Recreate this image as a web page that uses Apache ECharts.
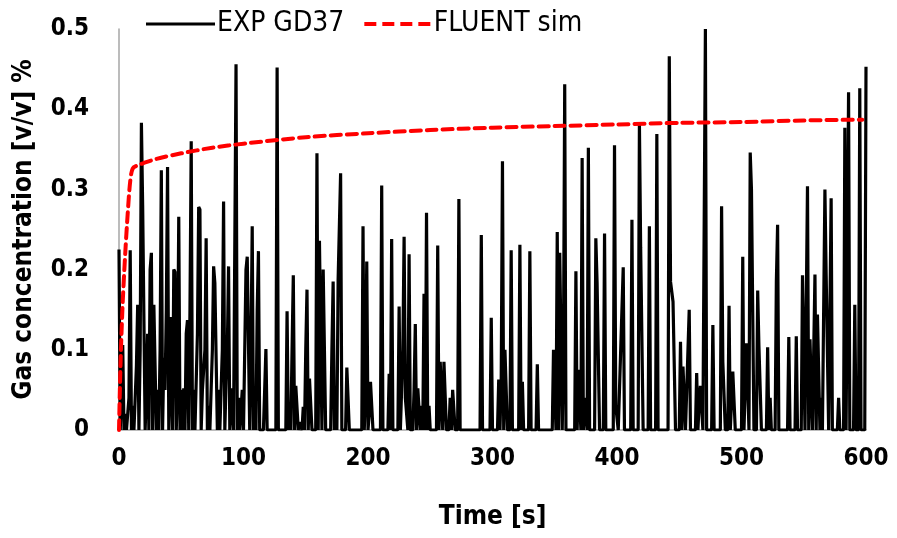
<!DOCTYPE html>
<html><head><meta charset="utf-8">
<script src="https://cdn.jsdelivr.net/npm/echarts@6/dist/echarts.min.js"></script>
<style>html,body{margin:0;padding:0;background:#fff}#c{width:897px;height:538px}</style>
</head><body><div id="c"></div>
<script>
const expTime = [0,1,2,3,4,5,6,8,9,10,11,12,14,15,16,17,18,19,20,21,22,23,24,25,26,27,28,29,30,31,32,33,34,35,36,37,38,39,40,41,42,43,44,45,46,47,48,49,50,51,52,53,54,55,56,57,58,59,60,61,63,64,65,66,67,69,70,71,72,73,75,76,77,78,79,80,81,83,84,85,86,87,88,89,90,91,92,94,95,96,97,99,100,102,103,104,105,106,107,108,109,110,111,112,113,116,117,118,119,126,127,128,130,134,135,136,137,138,139,140,141,142,143,144,145,147,148,149,150,151,152,153,154,155,158,159,160,161,162,163,164,165,166,170,171,172,173,174,175,176,177,178,179,182,183,184,185,195,196,197,198,199,200,201,202,203,204,210,211,212,216,217,218,219,220,224,225,226,227,228,229,230,231,232,233,234,236,237,238,239,240,241,242,243,244,245,246,247,248,249,250,255,256,257,258,259,260,261,262,263,265,266,267,268,269,270,272,273,274,290,291,292,298,299,300,304,305,306,307,308,309,310,311,312,314,315,316,321,322,323,324,325,329,330,331,335,336,337,348,349,350,351,352,353,354,355,356,357,358,359,366,367,368,369,370,371,372,373,374,375,376,377,378,382,383,384,385,386,389,390,391,397,398,399,400,401,405,406,411,412,413,417,418,419,420,421,425,426,427,431,432,433,441,442,443,444,445,446,447,450,451,452,453,454,455,458,459,463,464,465,466,467,468,469,471,472,476,477,478,483,484,485,486,487,489,490,491,493,494,495,500,501,502,504,505,506,507,508,509,510,512,513,514,515,516,520,521,522,523,524,527,528,529,530,537,538,539,543,544,545,548,549,550,551,552,553,554,555,556,557,558,559,560,561,562,563,564,565,566,567,568,569,570,571,572,573,577,578,579,582,583,584,585,586,587,590,591,592,594,595,596,599,600];
const expValue = [0.225,0,0.05,0.106,0,0.02,0,0.04,0.224,0,0.03,0,0.08,0.156,0,0.1,0.383,0.28,0.28,0,0.05,0.12,0,0.2,0.221,0,0.156,0.156,0,0.05,0,0.1,0.324,0,0.09,0.05,0.15,0.328,0,0.06,0.141,0,0.2,0.197,0,0.06,0.266,0,0.05,0,0.052,0,0.12,0.137,0,0.15,0.36,0,0.05,0,0.12,0.278,0.275,0,0.05,0.1,0.239,0,0.03,0,0.1,0.204,0.183,0.183,0,0.05,0,0.1,0.285,0,0.06,0.1,0.204,0,0.052,0.052,0,0.456,0,0.04,0,0.05,0,0.2,0.216,0.216,0,0.1,0.254,0,0.05,0,0.15,0.223,0,0,0.05,0.101,0,0,0.452,0,0,0,0.148,0,0.03,0,0.1,0.193,0,0.055,0.055,0,0.01,0,0.029,0,0.1,0.175,0,0.064,0.064,0,0,0.345,0,0.236,0.236,0,0.2,0.2,0,0,0.1,0.185,0,0.05,0,0.187,0.187,0.32,0,0,0.078,0.078,0,0,0.254,0,0.05,0.21,0,0.02,0.06,0.06,0,0,0.305,0,0,0.07,0,0.238,0,0,0.154,0,0.05,0.1,0.241,0.04,0.04,0,0.219,0,0,0.05,0.132,0,0.052,0.052,0,0.03,0,0.17,0,0.271,0,0.03,0,0,0.23,0,0.085,0.085,0,0.085,0.085,0,0,0.04,0,0.05,0.05,0,0,0.288,0,0,0.243,0,0,0.14,0,0,0.063,0,0.063,0.335,0,0.1,0.1,0,0,0.224,0,0,0.231,0,0.06,0,0,0.223,0,0,0.082,0,0,0.1,0.1,0,0.247,0,0.221,0.221,0,0.1,0.431,0,0,0.198,0,0.075,0.075,0,0.339,0,0.04,0.04,0,0.352,0,0,0.239,0.184,0.184,0,0,0.245,0,0,0.355,0.03,0.03,0,0.203,0,0,0.262,0,0,0.382,0.228,0.228,0,0,0.254,0,0,0.369,0,0,0.466,0.185,0.185,0.16,0.16,0,0,0.11,0,0.079,0.079,0,0.15,0,0,0.071,0,0.034,0.055,0.055,0,0.5,0,0,0.131,0,0,0.279,0.085,0.085,0,0,0.155,0,0.073,0.073,0,0,0.216,0,0.108,0.108,0,0.346,0.3,0.3,0,0,0.174,0.104,0.104,0,0,0.103,0,0.04,0,0,0.185,0.256,0,0,0.116,0,0,0.117,0,0,0.193,0.193,0,0,0.304,0,0.113,0.113,0,0,0.194,0,0.144,0.144,0,0.04,0,0,0.3,0.193,0.193,0,0,0.289,0,0,0.04,0,0,0.377,0,0,0.421,0,0,0.156,0,0,0.426,0,0,0.453];
const simTime = [0,1,2,3,5,7,9,11,15,20,30,50,75,100,150,200,250,300,350,400,450,500,550,597];
const simValue = [0,0.07,0.12,0.16,0.22,0.27,0.31,0.326,0.33,0.333,0.338,0.345,0.352,0.357,0.365,0.37,0.374,0.377,0.379,0.381,0.383,0.384,0.386,0.387];
const xTicks = [0,100,200,300,400,500,600];
const yTicks = [0,0.1,0.2,0.3,0.4,0.5];

const FONT = '"DejaVu Sans Condensed",Lato,sans-serif';
const chart = echarts.init(document.getElementById('c'), null, {renderer:'canvas'});
chart.setOption({
  animation:false,
  backgroundColor:'#fff',
  grid:{left:119,right:31,top:29,bottom:108,containLabel:false,outerBoundsMode:'none'},
  legend:{
    top:5,left:141,itemWidth:69,itemHeight:4,itemGap:20,
    textStyle:{fontFamily:FONT,fontSize:28,color:'#000',padding:[0,0,0,-3]},
    data:[
      {name:'EXP GD37',icon:'path://M0,0L69,0L69,3L0,3Z'},
      {name:'FLUENT sim',icon:'path://M0,0h12v4h-12zM18,0h12v4h-12zM36,0h12v4h-12zM54,0h12v4h-12z',itemStyle:{color:'#ff0000'}}
    ]
  },
  xAxis:{
    type:'value',min:xTicks[0],max:xTicks[xTicks.length-1],interval:100,
    name:'Time [s]',nameLocation:'middle',nameGap:74,
    nameTextStyle:{fontFamily:FONT,fontSize:26,fontWeight:'bold',color:'#000'},
    axisLine:{show:true,lineStyle:{color:'#a6a6a6',width:1.5}},
    axisTick:{show:false},splitLine:{show:false},
    axisLabel:{fontFamily:FONT,fontSize:24,fontWeight:'bold',color:'#000',margin:17}
  },
  yAxis:{
    type:'value',min:yTicks[0],max:yTicks[yTicks.length-1],interval:0.1,
    name:'Gas concentration [v/v] %',nameLocation:'middle',nameGap:82,nameRotate:90,
    nameTextStyle:{fontFamily:FONT,fontSize:26,fontWeight:'bold',color:'#000'},
    axisLine:{show:true,lineStyle:{color:'#a6a6a6',width:1.5}},
    axisTick:{show:false},splitLine:{show:false},
    axisLabel:{fontFamily:FONT,fontSize:24,fontWeight:'bold',color:'#000',margin:30,
      formatter:v=>String(Math.round(v*10)/10)}
  },
  series:[
    {name:'EXP GD37',type:'line',showSymbol:false,symbol:'none',
     lineStyle:{color:'#000',width:3.2},itemStyle:{color:'#000'},
     data:expTime.map((t,i)=>[t,expValue[i]])},
    {name:'FLUENT sim',type:'line',showSymbol:false,symbol:'none',smooth:0.3,
     lineStyle:{color:'#ff0000',width:4,type:[10,6],cap:'round'},itemStyle:{color:'#ff0000'},
     data:simTime.map((t,i)=>[t,simValue[i]])}
  ]
});
</script></body></html>
